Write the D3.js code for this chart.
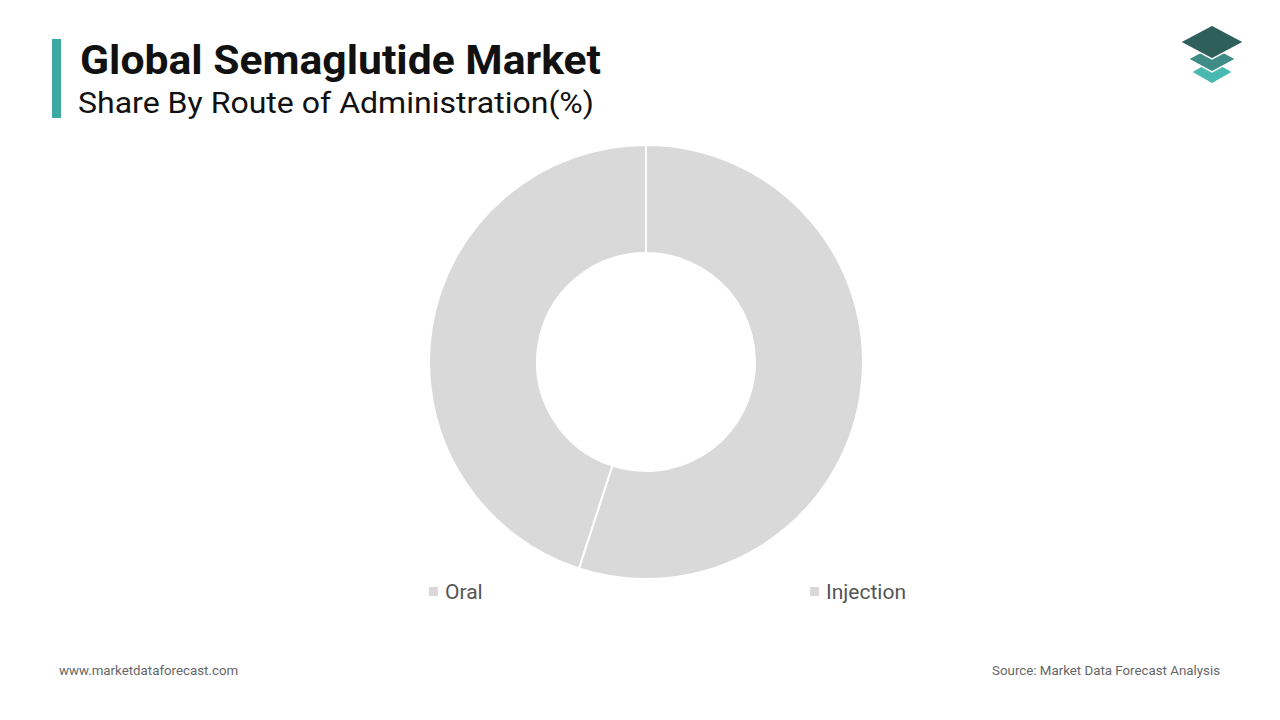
<!DOCTYPE html>
<html><head><meta charset="utf-8">
<script src="https://cdn.jsdelivr.net/npm/d3@7"></script>
<style>body{margin:0;background:#fff;font-family:Roboto,sans-serif}</style>
</head><body><svg id="c" width="1280" height="720"></svg>
<script>
var categories = ["Injection", "Oral"];
var shares = [55, 45];
var legendOrder = ["Oral", "Injection"];

var svg = d3.select("#c");
var cx = 646, cy = 362, outerR = 217, innerR = 109;

// title block
svg.append("rect").attr("x", 52).attr("y", 39).attr("width", 9).attr("height", 79).attr("fill", "#3aa9a3");
svg.append("text").attr("x", 80).attr("y", 74).attr("font-size", 40).attr("font-weight", 700).attr("fill", "#111")
  .attr("textLength", 521).attr("lengthAdjust", "spacingAndGlyphs").text("Global Semaglutide Market");
svg.append("text").attr("x", 78).attr("y", 113).attr("font-size", 30).attr("fill", "#111")
  .attr("textLength", 516).attr("lengthAdjust", "spacingAndGlyphs").text("Share By Route of Administration(%)");

// logo
var logo = svg.append("g").attr("transform", "translate(1212,0)");
[[72, "#48b8b0", 21, 12], [59, "#3f8c86", 24, 13], [42, "#2f5f5a", 32, 17]].forEach(function (d) {
  var w = d[2], h = d[3];
  logo.append("path")
    .attr("d", "M0," + (d[0] - h) + "L" + w + "," + d[0] + "L0," + (d[0] + h) + "L" + (-w) + "," + d[0] + "Z")
    .attr("fill", d[1]).attr("stroke", "#fff").attr("stroke-width", 1.5);
});

// donut
var pie = d3.pie().sort(null).value(function (d) { return d; });
var arc = d3.arc().innerRadius(innerR).outerRadius(outerR);
svg.append("g").attr("transform", "translate(" + cx + "," + cy + ")")
  .selectAll("path").data(pie(shares)).enter().append("path")
  .attr("d", arc).attr("fill", "#d9d9d9").attr("stroke", "#fff").attr("stroke-width", 2);

// legend
var lx = d3.scalePoint().domain(legendOrder).range([429, 810]);
var lg = svg.selectAll(".lg").data(legendOrder).enter().append("g")
  .attr("transform", function (d) { return "translate(" + lx(d) + ",592)"; });
lg.append("rect").attr("x", 0).attr("y", -5).attr("width", 9).attr("height", 9).attr("fill", "#d9d9d9");
lg.append("text").attr("x", 16).attr("y", 7).attr("font-size", 21).attr("fill", "#555").text(function (d) { return d; });

// footer
svg.append("text").attr("x", 59).attr("y", 675).attr("font-size", 13.3).attr("fill", "#666").text("www.marketdataforecast.com");
svg.append("text").attr("x", 1220).attr("y", 675).attr("text-anchor", "end").attr("font-size", 13.3).attr("fill", "#666").text("Source: Market Data Forecast Analysis");
</script></body></html>
